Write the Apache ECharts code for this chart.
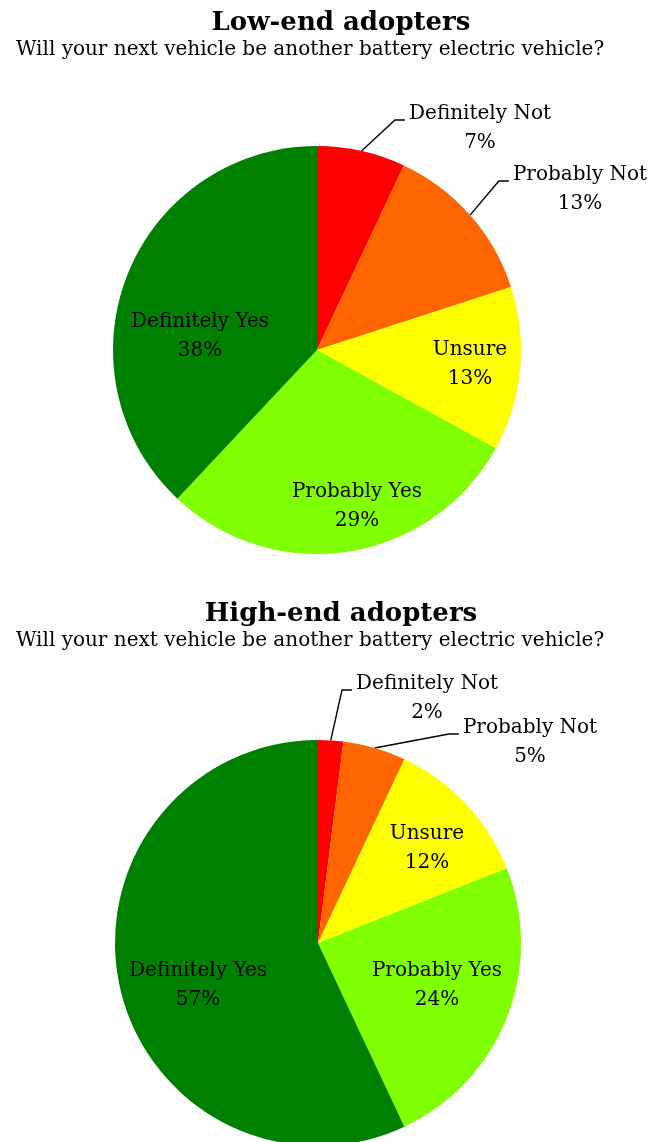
<!DOCTYPE html>
<html>
<head>
<meta charset="utf-8">
<script src="https://cdn.jsdelivr.net/npm/echarts@6/dist/echarts.min.js"></script>
<style>
  html, body { margin: 0; padding: 0; background: #ffffff; }
  #chart { width: 649px; height: 1142px; }
</style>
</head>
<body>
<div id="chart"></div>
<script>
// ---- data ----
const categories = ['Definitely Not', 'Probably Not', 'Unsure', 'Probably Yes', 'Definitely Yes'];
const lowEndValues = [7, 13, 13, 29, 38];
const highEndValues = [2, 5, 12, 24, 57];
const chartTitles = ['Low-end adopters', 'High-end adopters'];
const question = 'Will your next vehicle be another battery electric vehicle?';

// ---- styles / layout ----
const sliceColors = ['#FF0000', '#FF6600', '#FFFF00', '#80FF00', '#008000'];
const FONT = 'DejaVu Serif';
const pies = [
  { cx: 317, cy: 350, r: 204, titleY: 23, subY: 50 },
  { cx: 318, cy: 943, r: 203, titleY: 614, subY: 641 }
];
// label block centre offsets from pie centre (px) and whether the label sits outside
const labelPlacement = [
  [[163, -222, true], [263, -161, true], [153, 14, false], [40, 156, false], [-117, -14, false]],
  [[109, -245, true], [212, -201, true], [109, -95, false], [119, 42, false], [-120, 42, false]]
];

function midPoint(values, idx, pie) {
  const sum = values.reduce((a, b) => a + b, 0);
  let cum = 0;
  for (let i = 0; i < idx; i++) cum += values[i];
  const theta = 2 * Math.PI * (cum + values[idx] / 2) / sum;
  return [pie.cx + pie.r * Math.sin(theta), pie.cy - pie.r * Math.cos(theta)];
}

const seriesValues = [lowEndValues, highEndValues];

function makeSeries(si) {
  const pie = pies[si];
  const values = seriesValues[si];
  return {
    type: 'pie',
    center: [pie.cx, pie.cy],
    radius: pie.r,
    startAngle: 90,
    clockwise: true,
    avoidLabelOverlap: false,
    silent: true,
    animation: false,
    itemStyle: { borderWidth: 0 },
    label: {
      formatter: '{b}\n{c}%',
      fontFamily: FONT,
      fontSize: 20,
      lineHeight: 29,
      color: '#000000',
      align: 'center'
    },
    labelLine: { show: true, length: 10, length2: 10, lineStyle: { color: '#000000', width: 1.4 } },
    labelLayout: function (params) {
      const pl = labelPlacement[si][params.dataIndex];
      const x = pie.cx + pl[0];
      const y = pie.cy + pl[1];
      const res = { x: x, y: y, align: 'center', verticalAlign: 'middle' };
      if (pl[2]) {
        const w = params.labelRect.width;
        const left = x - w / 2;
        const ly = y - 8;
        const start = midPoint(values, params.dataIndex, pie);
        res.labelLinePoints = [start, [left - 14, ly], [left - 4, ly]];
      }
      return res;
    },
    data: categories.map((name, i) => ({
      name: name,
      value: values[i],
      itemStyle: { color: sliceColors[i] },
      label: { position: labelPlacement[si][i][2] ? 'outside' : 'inside' },
      labelLine: { show: labelPlacement[si][i][2] }
    }))
  };
}

const graphics = [];
pies.forEach((pie, i) => {
  graphics.push({
    type: 'text', x: 341, y: pie.titleY,
    style: { text: chartTitles[i], font: 'bold 26px "' + FONT + '"', fill: '#000', align: 'center', verticalAlign: 'middle' }
  });
  graphics.push({
    type: 'text', x: 310, y: pie.subY,
    style: { text: question, font: '20px "' + FONT + '"', fill: '#000', align: 'center', verticalAlign: 'middle' }
  });
});

const chart = echarts.init(document.getElementById('chart'), null, { renderer: 'canvas' });
chart.setOption({
  backgroundColor: '#ffffff',
  animation: false,
  graphic: graphics,
  series: [makeSeries(0), makeSeries(1)]
});
</script>
</body>
</html>
